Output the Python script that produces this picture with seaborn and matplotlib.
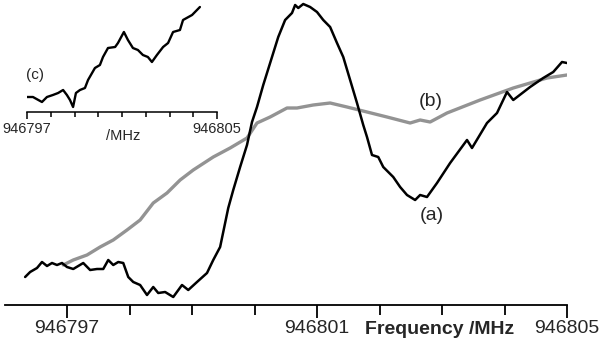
import matplotlib
matplotlib.use("Agg")
import matplotlib.pyplot as plt
import seaborn as sns
import numpy as np
import pandas as pd

# ---- data ----
freq_a = [946796.33, 946796.41, 946796.52, 946796.60, 946796.68, 946796.76, 946796.84, 946796.92,
          946797.00, 946797.10, 946797.26, 946797.37, 946797.48, 946797.58, 946797.66, 946797.74,
          946797.82, 946797.90, 946797.98, 946798.06, 946798.17, 946798.28, 946798.38, 946798.46,
          946798.57, 946798.70, 946798.84, 946798.94, 946799.08, 946799.24, 946799.34, 946799.45,
          946799.58, 946799.66, 946799.77, 946799.88, 946799.96, 946800.04, 946800.14, 946800.28,
          946800.38, 946800.49, 946800.60, 946800.65, 946800.70, 946800.78, 946800.89, 946801.00,
          946801.10, 946801.21, 946801.32, 946801.42, 946801.53, 946801.64, 946801.74, 946801.80,
          946801.88, 946801.98, 946802.06, 946802.22, 946802.33, 946802.44, 946802.57, 946802.65,
          946802.76, 946802.92, 946803.13, 946803.40, 946803.48, 946803.72, 946803.88, 946804.04,
          946804.14, 946804.41, 946804.62, 946804.78, 946804.92, 946805.00]
signal_a = [28, 33, 37, 43, 39, 42, 40, 42, 38, 36, 42, 35, 36, 36, 45, 40, 43, 42, 28, 23,
            20, 10, 18, 12, 13, 8, 20, 15, 23, 32, 45, 58, 97, 115, 138, 160, 183, 198, 220, 248,
            268, 285, 292, 300, 297, 301, 298, 293, 285, 278, 262, 248, 225, 202, 180, 168, 150, 148,
            138, 128, 118, 110, 105, 110, 108, 122, 142, 165, 157, 182, 192, 213, 205, 218, 227, 233,
            243, 242]

freq_b = [946796.94, 946797.10, 946797.32, 946797.53, 946797.74, 946797.96, 946798.17, 946798.38,
          946798.60, 946798.81, 946799.02, 946799.34, 946799.61, 946799.88, 946800.04, 946800.25,
          946800.52, 946800.68, 946800.94, 946801.21, 946801.48, 946801.80, 946802.12, 946802.49,
          946802.65, 946802.81, 946803.08, 946803.61, 946804.14, 946804.68, 946805.00]
signal_b = [40, 45, 50, 58, 65, 75, 85, 102, 112, 125, 135, 148, 157, 167, 182, 188, 197, 197,
            200, 202, 198, 193, 188, 182, 185, 183, 192, 205, 217, 227, 230]

freq_c = [946797.00, 946797.25, 946797.63, 946797.84, 946798.09, 946798.31, 946798.52, 946798.68,
          946798.81, 946798.94, 946799.06, 946799.23, 946799.44, 946799.57, 946799.86, 946800.07,
          946800.20, 946800.41, 946800.71, 946800.83, 946801.08, 946801.25, 946801.46, 946801.67,
          946801.88, 946802.09, 946802.26, 946802.47, 946802.73, 946802.94, 946803.15, 946803.44,
          946803.57, 946803.95, 946804.28]
signal_c = [15, 15, 10, 15, 17, 19, 22, 17, 12, 5, 19, 22, 24, 32, 44, 47, 55, 64, 65, 69,
            80, 72, 64, 62, 57, 55, 50, 57, 65, 69, 80, 82, 92, 97, 105]

main_ticks = [946797, 946801, 946805]
main_minor = [946798, 946799, 946800, 946802, 946803, 946804]
inset_ticks = [946797, 946805]
inset_minor = [946798, 946799, 946800, 946801, 946802, 946803, 946804]

# ---- style ----
sns.set_style("white")
plt.rcParams['font.family'] = ['Liberation Sans', 'DejaVu Sans']

W, H = 600, 350
fig = plt.figure(figsize=(6, 3.5), dpi=100)

def px(x0, y0, w, h):
    return [x0 / W, 1 - (y0 + h) / H, w / W, h / H]

# main axes
ax = fig.add_axes(px(4.5, 0, 562.5, 305))
df_a = pd.DataFrame({"f": freq_a, "s": signal_a})
df_b = pd.DataFrame({"f": freq_b, "s": signal_b})
sns.lineplot(data=df_b, x="f", y="s", ax=ax, color="#939393", lw=2.4, sort=False, estimator=None)
sns.lineplot(data=df_a, x="f", y="s", ax=ax, color="black", lw=1.8, sort=False, estimator=None)
ax.set_xlim(946796.0, 946805.0)
ax.set_ylim(0, 305)
for s in ["top", "right", "left"]:
    ax.spines[s].set_visible(False)
ax.spines["bottom"].set_linewidth(1.3)
ax.spines["bottom"].set_color("black")
ax.set_xticks(main_ticks)
ax.set_xticks(main_minor, minor=True)
ax.set_xticklabels([str(t) for t in main_ticks], fontsize=14)
ax.tick_params(axis="x", which="major", length=9, width=1.3, color="black", pad=2, bottom=True)
ax.tick_params(axis="x", which="minor", length=7, width=1.3, color="black", bottom=True)
ax.set_yticks([])
ax.set_xlabel("")
ax.set_ylabel("")
ax.patch.set_alpha(0)

fig.text(440 / W, 1 - 329 / H, "Frequency /MHz", fontsize=14, fontweight="bold",
         ha="center", va="center")
fig.text(432 / W, 1 - 216 / H, "(a)", fontsize=14, ha="center", va="center")
fig.text(431 / W, 1 - 101 / H, "(b)", fontsize=14, ha="center", va="center")

# inset
axi = fig.add_axes(px(27, 0, 190, 112))
df_c = pd.DataFrame({"f": freq_c, "s": signal_c})
sns.lineplot(data=df_c, x="f", y="s", ax=axi, color="black", lw=1.7, sort=False, estimator=None)
axi.set_xlim(946797, 946805)
axi.set_ylim(0, 112)
for s in ["top", "right", "left"]:
    axi.spines[s].set_visible(False)
axi.spines["bottom"].set_linewidth(1.1)
axi.spines["bottom"].set_color("black")
axi.set_xticks(inset_ticks)
axi.set_xticks(inset_minor, minor=True)
axi.set_xticklabels([str(t) for t in inset_ticks], fontsize=10.5)
axi.tick_params(axis="x", which="major", length=5, width=1.1, color="black", pad=2.5, bottom=True)
axi.tick_params(axis="x", which="minor", length=3.5, width=1.1, color="black", bottom=True)
axi.set_yticks([])
axi.set_xlabel("")
axi.set_ylabel("")
axi.patch.set_alpha(0)

fig.text(123 / W, 1 - 136 / H, "/MHz", fontsize=10.5, ha="center", va="center")
fig.text(35 / W, 1 - 75 / H, "(c)", fontsize=11, ha="center", va="center")

fig.savefig("out.png", dpi=100)
